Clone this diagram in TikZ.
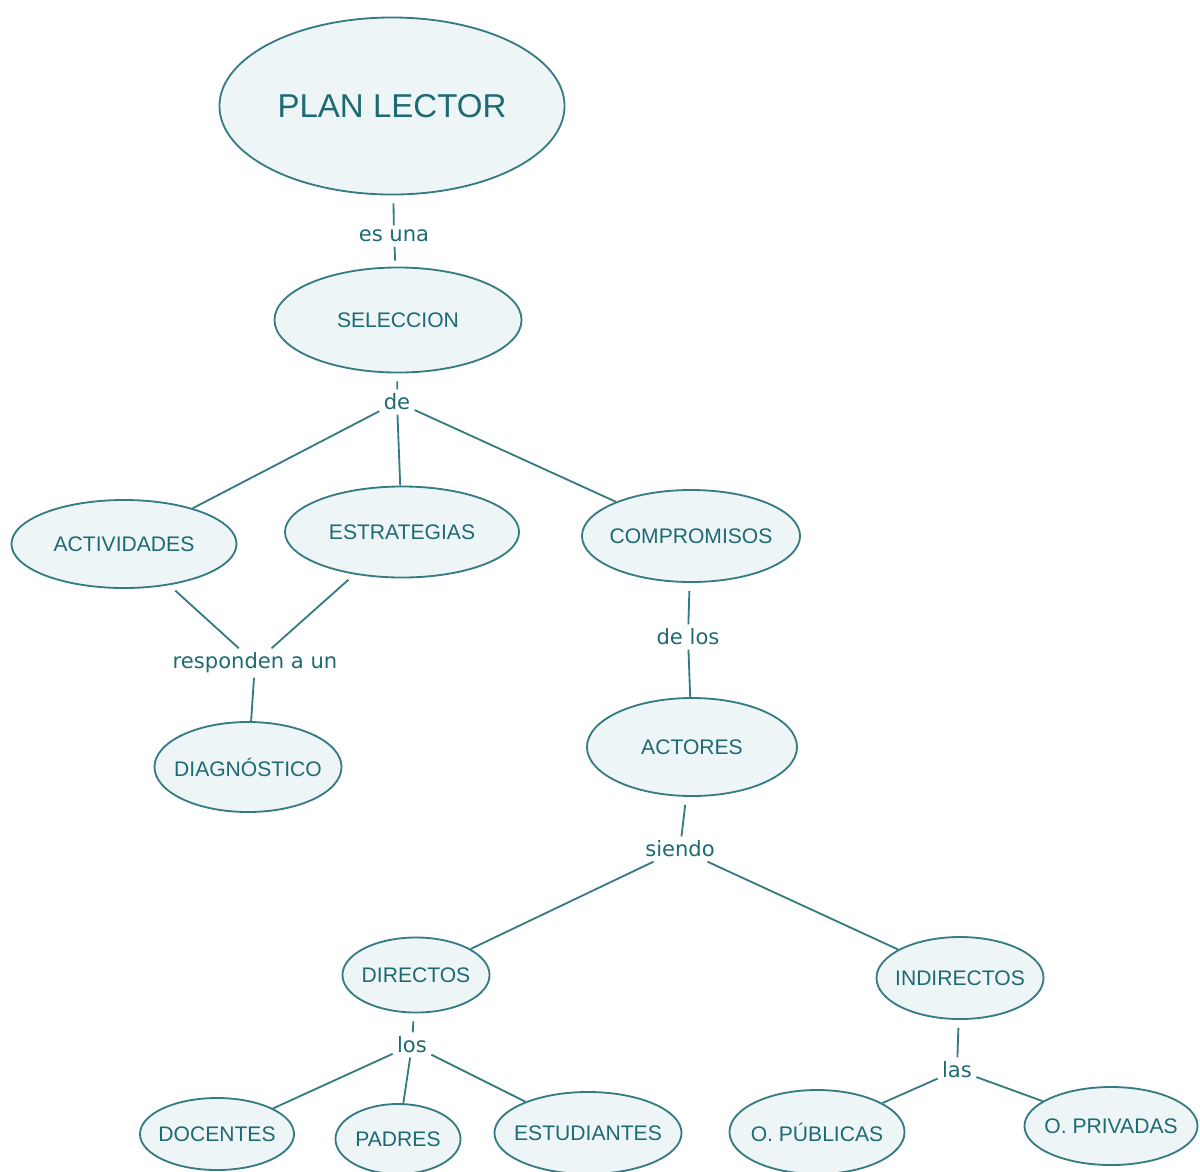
\documentclass[tikz,border=0pt]{standalone}
\usepackage{fontspec}
\setmainfont{Liberation Sans}
\newfontfamily\linkfont{DejaVu Sans}
\definecolor{mapTeal}{HTML}{357B82}
\definecolor{mapInk}{HTML}{1E6A72}
\definecolor{mapFill}{HTML}{EEF5F6}
\usetikzlibrary{shapes.geometric}

\begin{document}
\begin{tikzpicture}[
    x=0.025cm, y=-0.025cm,
    concept/.style={ellipse, draw=mapTeal, fill=mapFill, line width=1.3pt,
                    inner xsep=-30pt, inner ysep=0pt, text=mapInk,
                    font=\fontsize{15}{18}\selectfont},
    linkword/.style={inner sep=3pt, text=mapInk,
                     font=\linkfont\fontsize{15}{18}\selectfont},
    link/.style={draw=mapTeal, line width=1.3pt},
    fromparent/.style={link, shorten <=0.2cm}
  ]
    \useasboundingbox (0,0) rectangle (1200,1171);

    % concepts
    \node[concept, minimum width=8.625cm, minimum height=4.425cm,
          font=\fontsize{23.5}{28}\selectfont] (plan) at (392,106) {PLAN LECTOR};
    \node[concept, minimum width=6.175cm, minimum height=2.625cm] (sel) at (398,320) {SELECCION};
    \node[concept, minimum width=5.625cm, minimum height=2.2cm] (act) at (124,544) {ACTIVIDADES};
    \node[concept, minimum width=5.85cm, minimum height=2.275cm] (est) at (402,532) {ESTRATEGIAS};
    \node[concept, minimum width=5.45cm, minimum height=2.3cm] (comp) at (691,536) {COMPROMISOS};
    \node[concept, minimum width=4.675cm, minimum height=2.25cm] (diag) at (248,767) {DIAGNÓSTICO};
    \node[concept, minimum width=5.25cm, minimum height=2.45cm] (actores) at (692,747) {ACTORES};
    \node[concept, minimum width=3.675cm, minimum height=1.875cm] (dir) at (416,975) {DIRECTOS};
    \node[concept, minimum width=4.175cm, minimum height=2.05cm] (indir) at (960,978) {INDIRECTOS};
    \node[concept, minimum width=3.85cm, minimum height=1.8cm] (doc) at (217,1134) {DOCENTES};
    \node[concept, minimum width=3.125cm, minimum height=1.75cm] (padres) at (398,1139) {PADRES};
    \node[concept, minimum width=4.675cm, minimum height=2.05cm] (estud) at (588,1133) {ESTUDIANTES};
    \node[concept, minimum width=4.375cm, minimum height=2.1cm] (opub) at (817,1132) {O. PÚBLICAS};
    \node[concept, minimum width=4.325cm, minimum height=1.95cm] (opriv) at (1111,1126) {O. PRIVADAS};

    % linking words
    \node[linkword] (esuna) at (394,236) {es una};
    \node[linkword] (de) at (397,402) {de};
    \node[linkword] (resp) at (255,663) {responden a un};
    \node[linkword] (delos) at (688,637) {de los};
    \node[linkword] (siendo) at (680,849) {siendo};
    \node[linkword] (los) at (412,1045) {los};
    \node[linkword] (las) at (957,1070) {las};

    % connectors
    \draw[fromparent] (plan) -- (esuna);
    \draw[link, shorten >=0.15cm] (esuna) -- (sel);
    \draw[fromparent] (sel) -- (de);
    \draw[link] (de) -- (act);
    \draw[link] (de) -- (est);
    \draw[link] (de) -- (comp);
    \draw[fromparent] (act) -- (resp);
    \draw[fromparent] (est) -- (resp);
    \draw[link] (resp) -- (diag);
    \draw[fromparent] (comp) -- (delos);
    \draw[link] (delos) -- (actores);
    \draw[fromparent] (actores) -- (siendo);
    \draw[link] (siendo) -- (dir);
    \draw[link] (siendo) -- (indir);
    \draw[fromparent] (dir) -- (los);
    \draw[link] (los) -- (doc);
    \draw[link] (los) -- (padres);
    \draw[link] (los) -- (estud);
    \draw[fromparent] (indir) -- (las);
    \draw[link] (las) -- (opub);
    \draw[link] (las) -- (opriv);
\end{tikzpicture}
\end{document}
